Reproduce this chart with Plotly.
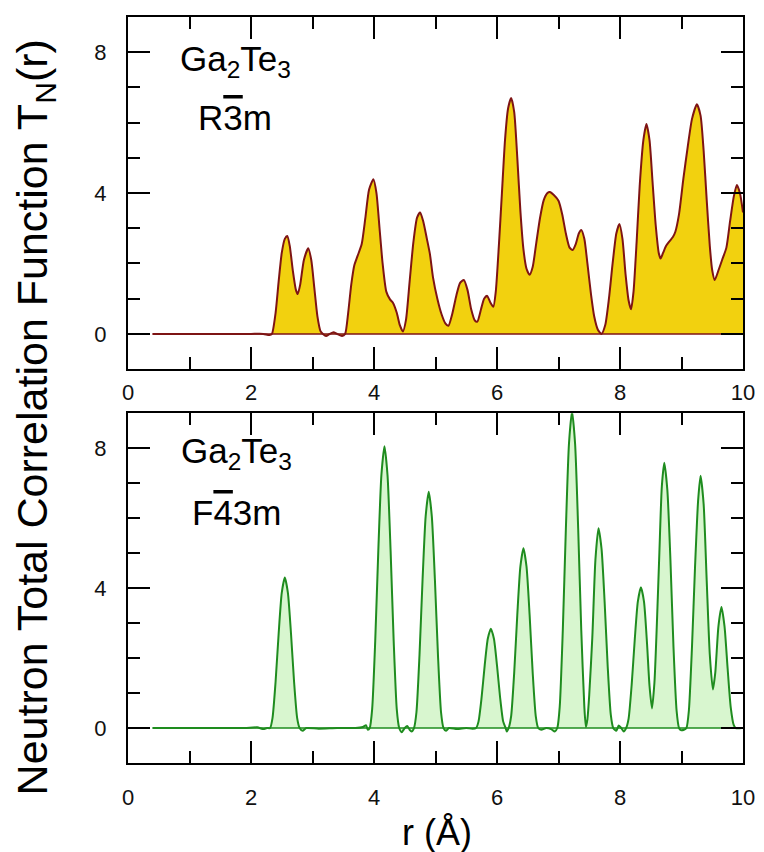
import plotly.graph_objects as go

# ---------------- data ----------------
# Top panel: Ga2Te3, R-3m  (r in Angstrom, T_N(r))
r_top = [0.40, 1.00, 1.50, 2.00, 2.20, 2.30, 2.34, 2.40, 2.45, 2.50, 2.55, 2.59, 2.63, 2.68,
         2.73, 2.76, 2.80, 2.86, 2.93, 2.98, 3.03, 3.08, 3.13, 3.17, 3.22, 3.28, 3.34, 3.40,
         3.48, 3.53, 3.58, 3.63, 3.68, 3.73, 3.80, 3.86, 3.92, 3.99, 4.04, 4.09, 4.14, 4.20,
         4.26, 4.31, 4.37, 4.42, 4.47, 4.52, 4.58, 4.64, 4.70, 4.75, 4.80, 4.86, 4.91, 4.96,
         5.03, 5.10, 5.16, 5.21, 5.27, 5.34, 5.40, 5.46, 5.52, 5.58, 5.64, 5.68, 5.74, 5.79,
         5.84, 5.89, 5.94, 5.98, 6.03, 6.08, 6.13, 6.18, 6.23, 6.28, 6.33, 6.38, 6.43, 6.48,
         6.53, 6.58, 6.64, 6.70, 6.76, 6.82, 6.86, 6.92, 7.00, 7.06, 7.12, 7.18, 7.23, 7.28,
         7.33, 7.37, 7.42, 7.47, 7.53, 7.58, 7.64, 7.70, 7.76, 7.82, 7.88, 7.94, 7.99, 8.04,
         8.09, 8.14, 8.18, 8.22, 8.27, 8.32, 8.38, 8.43, 8.48, 8.53, 8.58, 8.63, 8.66, 8.70,
         8.75, 8.80, 8.86, 8.90, 8.96, 9.03, 9.10, 9.17, 9.25, 9.31, 9.36, 9.41, 9.46, 9.50,
         9.54, 9.60, 9.66, 9.73, 9.79, 9.85, 9.90, 9.95, 10.00]
t_top = [0.00, 0.00, 0.00, 0.00, 0.00, -0.03, 0.00, 0.60, 1.50, 2.30, 2.70, 2.78, 2.50, 1.80,
         1.25, 1.13, 1.40, 2.10, 2.43, 2.10, 1.30, 0.50, 0.08, 0.00, -0.06, 0.00, 0.05, 0.00,
         -0.06, 0.00, 0.60, 1.40, 1.95, 2.20, 2.55, 3.30, 4.10, 4.39, 4.00, 3.00, 2.00, 1.20,
         0.98, 0.88, 0.60, 0.25, 0.07, 0.40, 1.50, 2.60, 3.30, 3.45, 3.20, 2.70, 2.26, 1.60,
         1.00, 0.55, 0.30, 0.23, 0.55, 1.10, 1.45, 1.53, 1.25, 0.70, 0.38, 0.35, 0.70, 1.00,
         1.08, 0.90, 0.77, 1.20, 2.50, 4.00, 5.50, 6.40, 6.70, 6.30, 5.00, 3.50, 2.40, 1.85,
         1.68, 1.90, 2.60, 3.30, 3.80, 4.00, 4.03, 3.95, 3.78, 3.40, 2.85, 2.45, 2.38, 2.55,
         2.85, 2.95, 2.70, 2.00, 1.10, 0.50, 0.12, 0.00, 0.25, 1.00, 2.00, 2.85, 3.12, 2.70,
         1.70, 0.95, 0.70, 1.20, 2.60, 4.20, 5.50, 5.96, 5.50, 4.30, 3.10, 2.30, 2.14, 2.30,
         2.50, 2.62, 2.75, 2.90, 3.40, 4.40, 5.30, 6.10, 6.52, 6.20, 5.20, 3.80, 2.50, 1.80,
         1.53, 1.80, 2.10, 2.45, 3.20, 3.90, 4.23, 4.00, 3.45]

# Bottom panel: Ga2Te3, F-43m
r_bot = [0.40, 1.00, 1.50, 1.90, 2.10, 2.20, 2.26,
         2.31, 2.35, 2.40, 2.45, 2.50, 2.55, 2.60, 2.65, 2.70, 2.75, 2.79, 2.84, 2.90,
         3.10, 3.40, 3.70, 3.82, 3.87, 3.90,
         3.93, 3.97, 4.02, 4.07, 4.12, 4.17, 4.22, 4.27, 4.32, 4.37, 4.41, 4.45, 4.50, 4.54,
         4.58, 4.61,
         4.65, 4.69, 4.74, 4.79, 4.84, 4.89, 4.94, 4.99, 5.04, 5.09, 5.13, 5.17, 5.22, 5.35,
         5.50, 5.60,
         5.66, 5.70, 5.75, 5.80, 5.85, 5.90, 5.95, 6.00, 6.05, 6.10, 6.14, 6.16,
         6.19, 6.23, 6.28, 6.33, 6.38, 6.43, 6.48, 6.53, 6.58, 6.63, 6.67, 6.72, 6.80, 6.88,
         6.94,
         6.98, 7.02, 7.07, 7.12, 7.17, 7.22, 7.27, 7.32, 7.37, 7.42, 7.445,
         7.47, 7.50, 7.55, 7.60, 7.65, 7.70, 7.75, 7.80, 7.85, 7.89, 7.94, 7.98, 8.02, 8.06,
         8.10, 8.14, 8.19, 8.24, 8.29, 8.34, 8.39, 8.44, 8.48, 8.52, 8.56, 8.60, 8.64, 8.68,
         8.72, 8.77, 8.82, 8.87, 8.92, 8.96, 8.99, 9.04,
         9.08, 9.12, 9.17, 9.22, 9.27, 9.31, 9.36, 9.41, 9.46, 9.51, 9.55, 9.60, 9.65, 9.70,
         9.75, 9.80, 9.85, 9.88, 9.98]
t_bot = [0.00, 0.00, 0.00, 0.00, 0.02, -0.03, 0.00,
         0.00, 0.29, 1.33, 2.71, 3.86, 4.30, 3.86, 2.71, 1.33, 0.29, 0.00, -0.08, 0.00,
         -0.02, 0.00, 0.00, 0.03, 0.08, -0.05,
         0.00, 0.54, 2.49, 5.07, 7.22, 8.05, 7.22, 5.07, 2.49, 0.54, 0.00, -0.12, 0.00, 0.06,
         -0.05, -0.10,
         0.00, 0.45, 2.09, 4.25, 6.05, 6.75, 6.05, 4.25, 2.09, 0.45, 0.00, -0.08, 0.00, -0.03,
         0.00, -0.02,
         0.00, 0.19, 0.88, 1.79, 2.55, 2.84, 2.55, 1.79, 0.88, 0.19, 0.00, -0.10,
         0.00, 0.34, 1.59, 3.24, 4.61, 5.14, 4.61, 3.24, 1.59, 0.34, 0.00, -0.05, 0.00, -0.03,
         -0.10,
         0.00, 0.61, 2.80, 5.70, 8.12, 9.05, 8.12, 5.70, 2.80, 0.61, 0.03,
         0.25, 0.95, 2.60, 4.80, 5.71, 5.12, 3.60, 1.76, 0.38, 0.00, -0.08, 0.07, 0.00, -0.10,
         0.00, 0.27, 1.24, 2.53, 3.61, 4.02, 3.61, 2.40, 1.20, 0.56, 1.30, 3.00, 5.00, 6.90,
         7.58, 6.80, 4.80, 2.30, 0.50, 0.00, -0.06, -0.05,
         0.00, 0.50, 2.30, 4.60, 6.50, 7.21, 6.40, 4.20, 2.10, 1.10, 1.60, 2.90, 3.46, 2.90,
         1.70, 0.60, 0.08, 0.00, 0.00]

x_ticks = [0, 2, 4, 6, 8, 10]
y_ticks = [0, 4, 8]

# ---------------- styling ----------------
FONT = "Liberation Sans, Arial, sans-serif"
TOP_FILL, TOP_LINE = "#F2D10F", "#7E1414"
BOT_FILL, BOT_LINE = "#D8F6CF", "#1F8C1F"

fig = go.Figure()

fig.add_trace(go.Scatter(x=r_top, y=t_top, mode="lines", fill="tozeroy",
                         fillcolor=TOP_FILL, line=dict(color=TOP_LINE, width=2, shape="spline", smoothing=0.6),
                         xaxis="x", yaxis="y", showlegend=False, hoverinfo="skip"))
fig.add_trace(go.Scatter(x=[r_top[0], r_top[-1]], y=[0, 0], mode="lines",
                         line=dict(color=TOP_LINE, width=1.5), xaxis="x", yaxis="y",
                         showlegend=False, hoverinfo="skip"))

fig.add_trace(go.Scatter(x=r_bot, y=t_bot, mode="lines", fill="tozeroy",
                         fillcolor=BOT_FILL, line=dict(color=BOT_LINE, width=2, shape="spline", smoothing=0.6),
                         xaxis="x2", yaxis="y2", showlegend=False, hoverinfo="skip"))
fig.add_trace(go.Scatter(x=[r_bot[0], r_bot[-1]], y=[0, 0], mode="lines",
                         line=dict(color=BOT_LINE, width=1.5), xaxis="x2", yaxis="y2",
                         showlegend=False, hoverinfo="skip"))

axis_common = dict(showline=True, linecolor="black", linewidth=2, mirror="ticks",
                   ticks="inside", tickwidth=2, tickcolor="black", ticklen=22,
                   showgrid=False, zeroline=False,
                   tickfont=dict(family=FONT, size=22, color="#111"))

xa = dict(axis_common, range=[0, 10], tickvals=x_ticks, ticktext=[str(v) for v in x_ticks],
          minor=dict(ticks="inside", dtick=1, tick0=0, ticklen=12, tickwidth=2, tickcolor="black", showgrid=False))
ya = dict(axis_common, range=[-1, 9], tickvals=y_ticks, ticktext=[str(v) for v in y_ticks],
          ticklabelstandoff=15,
          minor=dict(ticks="inside", dtick=1, tick0=0, ticklen=12, tickwidth=2, tickcolor="black", showgrid=False))

# the page body adds an 8 px offset, so the figure is 16 px smaller than the window
fig.update_layout(
    width=756, height=844,
    margin=dict(l=120, r=21, t=7, b=89),
    paper_bgcolor="white", plot_bgcolor="white",
    xaxis=dict(xa, domain=[0, 1], anchor="y", ticklabelstandoff=2),
    yaxis=dict(ya, domain=[0.528, 1.0], anchor="x"),
    xaxis2=dict(xa, domain=[0, 1], anchor="y2", ticklabelstandoff=14),
    yaxis2=dict(ya, domain=[0.0, 0.469], anchor="x2"),
    font=dict(family=FONT, color="black"),
)

ann_font = dict(family=FONT, size=35, color="black")
annotations = [
    dict(text="Ga<sub>2</sub>Te<sub>3</sub>", x=1.74, y=7.75, xref="x", yref="y",
         showarrow=False, font=ann_font, xanchor="center", yanchor="middle"),
    dict(text="R<span style='text-decoration:overline'>3</span>m", x=1.74, y=6.15, xref="x", yref="y",
         showarrow=False, font=ann_font, xanchor="center", yanchor="middle"),
    dict(text="Ga<sub>2</sub>Te<sub>3</sub>", x=1.76, y=7.85, xref="x2", yref="y2",
         showarrow=False, font=ann_font, xanchor="center", yanchor="middle"),
    dict(text="F<span style='text-decoration:overline'>4</span>3m", x=1.76, y=6.17, xref="x2", yref="y2",
         showarrow=False, font=ann_font, xanchor="center", yanchor="middle"),
    dict(text="Neutron Total Correlation Function T<sub>N</sub>(r)", x=-0.152, y=0.4626,
         xref="paper", yref="paper", textangle=-90, showarrow=False, borderpad=0,
         font=dict(family=FONT, size=43, color="black"), xanchor="center", yanchor="middle"),
    dict(text="r (Å)", x=0.502, y=-0.093, xref="paper", yref="paper", showarrow=False,
         borderpad=0, font=dict(family=FONT, size=36, color="black"), xanchor="center", yanchor="middle"),
]
fig.update_layout(annotations=annotations)

fig.write_html("out.html")
